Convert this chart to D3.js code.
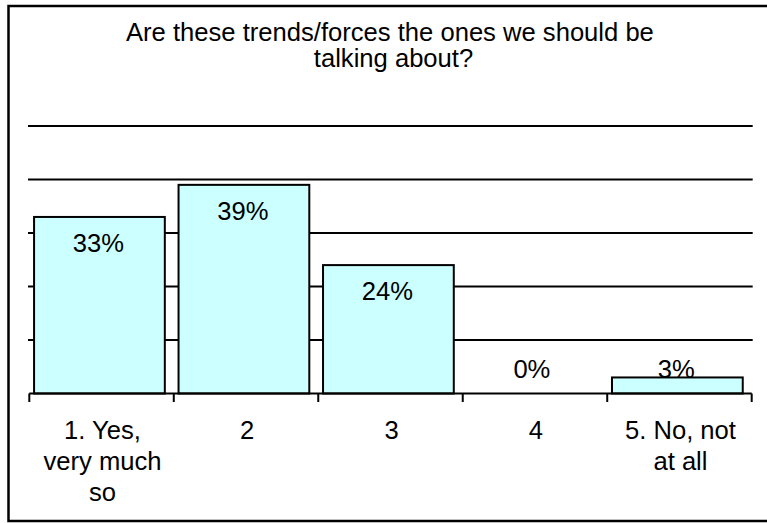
<!DOCTYPE html>
<html>
<head>
<meta charset="utf-8">
<script src="https://cdn.jsdelivr.net/npm/d3@7"></script>
<style>
  html, body { margin: 0; padding: 0; background: #ffffff; }
  svg { display: block; }
  text { font-family: "Liberation Sans", Arial, sans-serif; fill: #000; white-space: pre; }
</style>
</head>
<body>
<svg id="chart" width="767" height="523"></svg>
<script>
// Survey responses
const categories = ["1. Yes, very much so", "2", "3", "4", "5. No, not at all"];
const categoryLines = [["1. Yes,", "very much", "so"], ["2"], ["3"], ["4"], ["5. No, not", "at all"]];
const values = [33, 39, 24, 0, 3];
const valueLabels = ["33%", "39%", "24%", "0%", "3%"];
const gridTicks = [10, 20, 30, 40, 50];
const titleLines = ["Are these trends/forces the ones we should be ", "talking about?"];

const svg = d3.select("#chart");
const fontSize = 25.6;

// Outer frame
svg.append("rect")
  .attr("x", 8.5).attr("y", 6)
  .attr("width", 800).attr("height", 515)
  .attr("fill", "none").attr("stroke", "#000").attr("stroke-width", 2.5);

// Title (wrapped over two lines, trailing space kept on the first)
svg.append("g").selectAll("text").data(titleLines).join("text")
  .attr("x", 393.5)
  .attr("y", (d, i) => 40.7 + i * 26.5)
  .attr("text-anchor", "middle")
  .style("font-size", fontSize + "px")
  .text(d => d);

// Scales
const x = d3.scaleBand().domain(categories).range([29.3, 751.7]).padding(0);
const y = d3.scaleLinear().domain([0, 50]).range([393.5, 126]);
const bw = x.bandwidth();

// Horizontal gridlines
svg.append("g").selectAll("line").data(gridTicks).join("line")
  .attr("x1", 28).attr("x2", 752.7)
  .attr("y1", d => y(d)).attr("y2", d => y(d))
  .attr("stroke", "#000").attr("stroke-width", 2);

// Bars
const barX = c => x(c) + bw * 0.033;
const barW = bw * 0.905;
svg.append("g").selectAll("rect").data(categories).join("rect")
  .attr("x", c => barX(c))
  .attr("y", (c, i) => y(values[i]))
  .attr("width", barW)
  .attr("height", (c, i) => y(0) - y(values[i]))
  .attr("fill", "#ccffff")
  .attr("stroke", "#000")
  .attr("stroke-width", 2)
  .attr("display", (c, i) => values[i] > 0 ? null : "none");

// Category axis: baseline with ticks at band boundaries
const axis = svg.append("g");
axis.append("line")
  .attr("x1", x.range()[0]).attr("x2", x.range()[1])
  .attr("y1", y(0)).attr("y2", y(0))
  .attr("stroke", "#000").attr("stroke-width", 2);
const bounds = categories.map(c => x(c)).concat([x(categories[categories.length - 1]) + bw]);
axis.selectAll("line.tick").data(bounds).join("line")
  .attr("class", "tick")
  .attr("x1", d => d).attr("x2", d => d)
  .attr("y1", y(0)).attr("y2", y(0) + 8.5)
  .attr("stroke", "#000").attr("stroke-width", 2);

// Category labels
const catG = axis.selectAll("text.cat").data(categories).join("text")
  .attr("class", "cat")
  .attr("text-anchor", "middle")
  .style("font-size", fontSize + "px");
catG.each(function (c, i) {
  d3.select(this).selectAll("tspan").data(categoryLines[i]).join("tspan")
    .attr("x", x(c) + bw / 2 + 1)
    .attr("y", (d, j) => 439.3 + j * 31)
    .text(d => d);
});

// Value labels: inside the top of the bar, or just above the baseline for short bars
svg.append("g").selectAll("text").data(categories).join("text")
  .attr("x", c => barX(c) + barW / 2 - 1)
  .attr("y", (c, i) => Math.min(y(values[i]) + 35, y(0) - 15.5))
  .attr("text-anchor", "middle")
  .style("font-size", fontSize + "px")
  .text((c, i) => valueLabels[i]);
</script>
</body>
</html>
